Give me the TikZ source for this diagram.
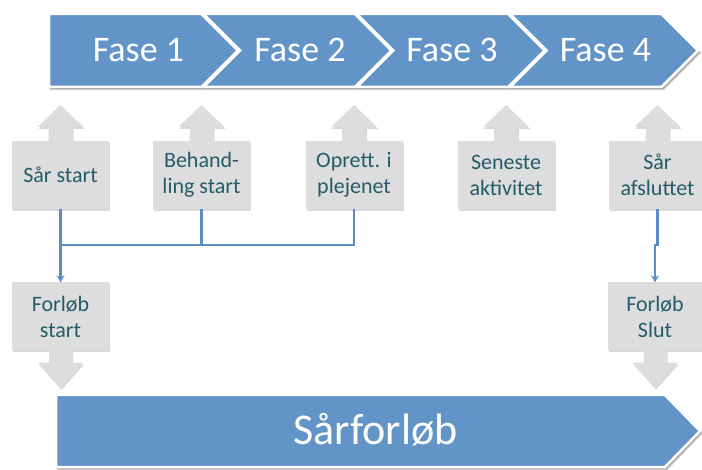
\documentclass[tikz,border=0pt]{standalone}
\usepackage{fontspec}
\setmainfont{Carlito}
\usetikzlibrary{arrows.meta,shadows,calc}
\definecolor{bandblue}{HTML}{6294C8}
\definecolor{boxgrey}{HTML}{DDDDDD}
\definecolor{boxtext}{HTML}{245B6B}
\definecolor{linkblue}{HTML}{5B8CC8}
\tikzset{
 band/.style={fill=bandblue,draw=white,line width=2.5pt,line join=miter},
 bandshadow/.style={fill=black,draw=black,line width=2.5pt,opacity=0.2},
 gshape/.style={fill=boxgrey,drop shadow={shadow xshift=1pt,shadow yshift=-2pt,opacity=0.3}},
 gbox/.style={gshape,minimum width=97pt,minimum height=68pt,inner sep=0pt,align=center,text=boxtext,font=\fontsize{22}{26}\selectfont},
 fasetext/.style={text=white,font=\fontsize{36}{40}\selectfont,anchor=base,inner sep=0pt},
 bigtext/.style={text=white,font=\fontsize{44}{48}\selectfont,anchor=base,inner sep=0pt},
 link/.style={draw=linkblue,line width=2.5pt},
 linkarrow/.style={link,-{Stealth[length=7pt,width=8pt]}}
}
\newcommand\myUpArr[1]{\fill[gshape] (#1.north) ++(-12,0) -- ++(0,-14) -- ++(-11,0) -- ++(23,-22) -- ++(23,22) -- ++(-11,0) -- ++(0,14) -- cycle;}
\newcommand\myDownArr[1]{\fill[gshape] (#1.south) ++(-11.5,0) -- ++(0,12) -- ++(-11,0) -- ++(22.5,25) -- ++(22.5,-25) -- ++(-11,0) -- ++(0,-12) -- cycle;}
\begin{document}
\begin{tikzpicture}[x=1pt,y=-1pt]
\useasboundingbox (0,0) rectangle (702,470);
% top band shadow
\begin{scope}[shift={(1.5,2)}]
\path[bandshadow] (49,14) -- (661.5,14) -- (698,50.5) -- (661.5,87) -- (49,87) -- cycle;
\end{scope}
% chevrons
\path[band] (49,14) -- (201.5,14) -- (238,50.5) -- (201.5,87) -- (49,87) -- cycle;
\path[band] (203.5,14) -- (354.8,14) -- (391.3,50.5) -- (354.8,87) -- (203.5,87) -- (240,50.5) -- cycle;
\path[band] (356.8,14) -- (508.2,14) -- (544.7,50.5) -- (508.2,87) -- (356.8,87) -- (393.3,50.5) -- cycle;
\path[band] (510.2,14) -- (661.5,14) -- (698,50.5) -- (661.5,87) -- (510.2,87) -- (546.7,50.5) -- cycle;
\node[fasetext] (f1) at (138.5,62) {Fase 1};
\node[fasetext] (f2) at (300,62) {Fase 2};
\node[fasetext] (f3) at (452,62) {Fase 3};
\node[fasetext] (f4) at (605.5,62) {Fase 4};
% up arrows and boxes
\coordinate (ssn) at (60.5,141);
\coordinate (bsn) at (201.5,141);
\coordinate (opn) at (354,141);
\coordinate (san) at (506,141);
\coordinate (safn) at (657.5,141);
\myUpArr{ssn}
\myUpArr{bsn}
\myUpArr{opn}
\myUpArr{san}
\myUpArr{safn}
\node[gbox] (ss) at (60.5,175) {Sår start};
\node[gbox] (bs) at (201.5,175) {Behand-\\ling start};
\node[gbox] (op) at (354,175) {Oprett. i\\plejenet};
\node[gbox] (sa) at (506,175) {Seneste\\aktivitet};
\node[gbox] (saf) at (657.5,175) {Sår\\afsluttet};
% lower boxes
\node[gbox] (fs) at (60.5,316.5) {Forløb\\start};
\node[gbox,minimum width=95pt] (fsl) at (655,316.5) {Forløb\\Slut};
\myDownArr{fs}
\myDownArr{fsl}
% connectors
\coordinate (j) at (60.5,245);
\draw[link] (bs.south) |- (j);
\draw[link] (op.south) |- (j);
\draw[linkarrow] (ss.south) -- (fs.north);
\draw[linkarrow] (saf.south) -- ++(0,36) -| (fsl.north);
% bottom band
\begin{scope}[shift={(1.5,2)}]
\path[bandshadow] (56,395) -- (665,395) -- (700,431) -- (665,467) -- (56,467) -- cycle;
\end{scope}
\path[band] (56,395) -- (665,395) -- (700,431) -- (665,467) -- (56,467) -- cycle;
\node[bigtext] (sf) at (375.5,445) {Sårforløb};
\end{tikzpicture}
\end{document}
